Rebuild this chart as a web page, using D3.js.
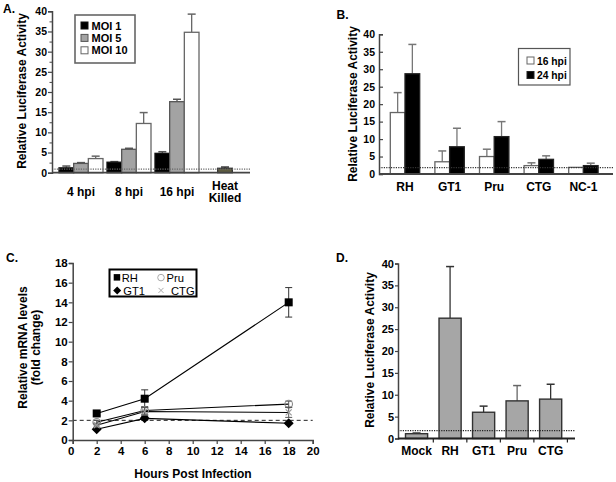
<!DOCTYPE html>
<html><head><meta charset="utf-8">
<script src="https://cdn.jsdelivr.net/npm/d3@7"></script>
<style>
body{margin:0;background:#fff}
svg text{font-family:"Liberation Sans",Arial,sans-serif;font-weight:bold;fill:#000}
svg text.norm{font-weight:normal}
</style></head><body>
<svg id="c" width="616" height="482"></svg>
<script>
// ---------- DATA ----------
// Panel A
const aGroups = ["4 hpi", "8 hpi", "16 hpi", "Heat Killed"];
const aSeries = ["MOI 1", "MOI 5", "MOI 10"];
const aMoi1 = [1.2, 2.6, 4.8];
const aMoi1Err = [0.45, 0.15, 0.4];
const aMoi5 = [2.3, 5.8, 17.6];
const aMoi5Err = [0.2, 0.25, 0.6];
const aMoi10 = [3.5, 12.2, 34.8];
const aMoi10Err = [0.6, 2.7, 4.5];
const aHeatKilled = 1.1;
const aHeatKilledErr = 0.3;
const aBaseline = 0.9;
const aTicks = [0, 5, 10, 15, 20, 25, 30, 35, 40];

// Panel B
const bStrains = ["RH", "GT1", "Pru", "CTG", "NC-1"];
const bSeries = ["16 hpi", "24 hpi"];
const b16 = [17.6, 3.5, 5.0, 2.4, 1.9];
const b16Err = [5.7, 3.1, 2.1, 0.8, 0];
const b24 = [28.7, 7.8, 10.7, 4.2, 2.4];
const b24Err = [8.4, 5.3, 4.3, 1.0, 0.7];
const bBaseline = 1.8;
const bTicks = [0, 5, 10, 15, 20, 25, 30, 35, 40];

// Panel C
const cTimes = [2, 6, 18];
const cNames = ["RH", "GT1", "Pru", "CTG"];
const cRH = [2.7, 4.2, 14.0];
const cRHErr = [0.2, 0.9, 1.5];
const cGT1 = [1.1, 2.2, 1.7];
const cGT1Err = [0.1, 0.2, 0.1];
const cPru = [1.8, 3.0, 3.65];
const cPruErr = [0.2, 0.4, 0.3];
const cCTG = [1.5, 2.9, 2.8];
const cCTGErr = [0.2, 0.4, 0.5];
const cBaseline = 2;
const cYTicks = [0, 2, 4, 6, 8, 10, 12, 14, 16, 18];
const cXTicks = [0, 2, 4, 6, 8, 10, 12, 14, 16, 18, 20];

// Panel D
const dCats = ["Mock", "RH", "GT1", "Pru", "CTG"];
const dVals = [1.1, 27.5, 6.0, 8.6, 9.0];
const dErr = [0.15, 11.8, 1.4, 3.5, 3.4];
const dBaseline = 1.8;
const dTicks = [0, 5, 10, 15, 20, 25, 30, 35, 40];

// ---------- DRAW ----------
const svg = d3.select("#c");
const AX = "#444";

function styleAxis(g, w) {
  g.select(".domain").attr("stroke", AX).attr("stroke-width", w || 1.5);
  g.selectAll(".tick line").attr("stroke", AX).attr("stroke-width", 1.2);
  g.selectAll("text").attr("fill", "#000");
}
function rotTitle(x, y, txt) {
  svg.append("text").attr("transform", `translate(${x},${y}) rotate(-90)`)
    .attr("text-anchor", "middle").attr("font-size", 12).text(txt);
}
function upErr(g, x, yTop, yCap, col) {
  g.append("line").attr("x1", x).attr("x2", x).attr("y1", yTop).attr("y2", yCap)
    .attr("stroke", col).attr("stroke-width", 1.3);
  g.append("line").attr("x1", x - 4).attr("x2", x + 4).attr("y1", yCap).attr("y2", yCap)
    .attr("stroke", col).attr("stroke-width", 1.5);
}
function dotted(g, x1, x2, yy, col) {
  g.append("line").attr("x1", x1).attr("x2", x2).attr("y1", yy).attr("y2", yy)
    .attr("stroke", col).attr("stroke-width", 1.2).attr("stroke-dasharray", "1.2,1.2");
}

// ===== Panel A =====
{
  const y = d3.scaleLinear().domain([0, 40]).range([172.7, 11.3]);
  const x = d3.scaleBand().domain(aGroups).range([57, 249]).padding(0);
  const xi = d3.scaleBand().domain(aSeries).range([0, 44]);
  const g = svg.append("g");
  const fills = ["#000", "#a3a3a3", "#fff"];
  const strokes = ["#111", "#555", "#666"];
  const errCol = ["#555", "#555", "#666"];
  const vals = [aMoi1, aMoi5, aMoi10], errs = [aMoi1Err, aMoi5Err, aMoi10Err];
  aSeries.forEach((s, si) => {
    aGroups.slice(0, 3).forEach((grp, gi) => {
      const bx = x(grp) + (x.bandwidth() - 44) / 2 + xi(s);
      const v = vals[si][gi], e = errs[si][gi];
      upErr(g, bx + xi.bandwidth() / 2, y(v), y(v + e), errCol[si]);
      g.append("rect").attr("x", bx).attr("y", y(v)).attr("width", xi.bandwidth())
        .attr("height", y(0) - y(v)).attr("fill", fills[si]).attr("stroke", strokes[si]).attr("stroke-width", 1.3);
    });
  });
  {
    const cx = x("Heat Killed") + x.bandwidth() / 2, w = xi.bandwidth();
    upErr(g, cx, y(aHeatKilled), y(aHeatKilled + aHeatKilledErr), "#333");
    g.append("rect").attr("x", cx - w / 2).attr("y", y(aHeatKilled)).attr("width", w)
      .attr("height", y(0) - y(aHeatKilled)).attr("fill", "#5e5c40").attr("stroke", "#333").attr("stroke-width", 1.3);
  }
  dotted(g, 52, 250, y(aBaseline), "#666");
  const ya = g.append("g").attr("transform", "translate(52,0)")
    .call(d3.axisLeft(y).tickValues(aTicks).tickSize(4).tickPadding(1))
    .call(a => a.selectAll("text").attr("font-size", 10.5).attr("font-family", "Liberation Sans, Arial").attr("font-weight", "bold"));
  styleAxis(ya);
  const ym = g.append("g").attr("transform", "translate(52,0)")
    .call(d3.axisLeft(y).tickValues(aTicks.slice(0, -1).map(t => t + 2.5)).tickSize(2.5).tickFormat(""));
  ym.select(".domain").remove();
  ym.selectAll(".tick line").attr("stroke", AX);
  g.append("line").attr("x1", 52).attr("x2", 250).attr("y1", y(0)).attr("y2", y(0)).attr("stroke", AX).attr("stroke-width", 1.8);
  aGroups.forEach(grp => {
    const cx = x(grp) + x.bandwidth() / 2;
    if (grp === "Heat Killed") {
      const t = g.append("text").attr("text-anchor", "middle").attr("font-size", 12);
      t.append("tspan").attr("x", cx).attr("y", 189.5).text("Heat");
      t.append("tspan").attr("x", cx).attr("y", 202).text("Killed");
    } else {
      g.append("text").attr("x", cx).attr("y", 196).attr("text-anchor", "middle").attr("font-size", 12).text(grp);
    }
  });
  rotTitle(25.5, 91, "Relative Luciferase Activity");
  svg.append("text").attr("x", 3).attr("y", 13).attr("font-size", 12).text("A.");
  const lg = g.append("g");
  lg.append("rect").attr("x", 75).attr("y", 15).attr("width", 60).attr("height", 48)
    .attr("fill", "#fff").attr("stroke", "#666").attr("stroke-width", 1.6);
  aSeries.forEach((s, i) => {
    const ry = 25.5 + i * 12.4;
    lg.append("rect").attr("x", 81).attr("y", ry - 3.5).attr("width", 7).attr("height", 7)
      .attr("fill", fills[i]).attr("stroke", strokes[i]).attr("stroke-width", 1);
    lg.append("text").attr("x", 91.5).attr("y", ry + 4).attr("font-size", 11).text(s);
  });
}

// ===== Panel B =====
{
  const y = d3.scaleLinear().domain([0, 40]).range([174, 34.3]);
  const x = d3.scaleBand().domain(bStrains).range([382.7, 605.7]).padding(0);
  const xi = d3.scaleBand().domain(bSeries).range([0, 29.4]);
  const g = svg.append("g");
  const fills = ["#fff", "#000"], strokes = ["#666", "#222"], errCol = ["#777", "#777"];
  const vals = [b16, b24], errs = [b16Err, b24Err];
  bSeries.forEach((s, si) => {
    bStrains.forEach((st, gi) => {
      const bx = x(st) + (x.bandwidth() - 29.4) / 2 + xi(s);
      const v = vals[si][gi], e = errs[si][gi];
      if (e > 0) upErr(g, bx + xi.bandwidth() / 2, y(v), y(v + e), errCol[si]);
      g.append("rect").attr("x", bx).attr("y", y(v)).attr("width", xi.bandwidth())
        .attr("height", y(0) - y(v)).attr("fill", fills[si]).attr("stroke", strokes[si]).attr("stroke-width", 1.3);
    });
  });
  dotted(g, 379, 613, y(bBaseline), "#333");
  const ya = g.append("g").attr("transform", "translate(379,0)")
    .call(d3.axisLeft(y).tickValues(bTicks).tickSize(-4).tickPadding(4))
    .call(a => a.selectAll("text").attr("font-size", 10.5).attr("font-family", "Liberation Sans, Arial").attr("font-weight", "bold"));
  styleAxis(ya);
  g.append("line").attr("x1", 379).attr("x2", 613).attr("y1", y(0)).attr("y2", y(0)).attr("stroke", AX).attr("stroke-width", 1.8);
  bStrains.forEach(st => {
    g.append("text").attr("x", x(st) + x.bandwidth() / 2).attr("y", 190.5).attr("text-anchor", "middle")
      .attr("font-size", 12).text(st);
  });
  rotTitle(356.5, 104, "Relative Luciferase Activity");
  svg.append("text").attr("x", 336.5).attr("y", 18.5).attr("font-size", 12).text("B.");
  const lg = g.append("g");
  lg.append("rect").attr("x", 518.5).attr("y", 48.5).attr("width", 51.5).attr("height", 36.5)
    .attr("fill", "#fff").attr("stroke", "#555").attr("stroke-width", 1.2);
  bSeries.forEach((s, i) => {
    const ry = 60.5 + i * 14.5;
    lg.append("rect").attr("x", 527).attr("y", ry - 3.5).attr("width", 7).attr("height", 7)
      .attr("fill", fills[i]).attr("stroke", strokes[i]).attr("stroke-width", 1);
    lg.append("text").attr("x", 537).attr("y", ry + 4).attr("font-size", 10.3).text(s);
  });
}

// ===== Panel C =====
{
  const x = d3.scaleLinear().domain([0, 20]).range([72.7, 312.7]);
  const y = d3.scaleLinear().domain([0, 18]).range([440, 263]);
  const g = svg.append("g");
  const series = [
    { name: "RH", v: cRH, e: cRHErr, sym: "square", col: "#000" },
    { name: "GT1", v: cGT1, e: cGT1Err, sym: "diamond", col: "#000" },
    { name: "Pru", v: cPru, e: cPruErr, sym: "circle", col: "#888" },
    { name: "CTG", v: cCTG, e: cCTGErr, sym: "x", col: "#999" }
  ];
  g.append("line").attr("x1", x(0)).attr("x2", x(20)).attr("y1", y(cBaseline)).attr("y2", y(cBaseline))
    .attr("stroke", "#222").attr("stroke-width", 1).attr("stroke-dasharray", "4,3");
  const line = d3.line().x((d, i) => x(cTimes[i])).y(d => y(d));
  function marker(sel, sym, cx, cy, col) {
    if (sym === "square") sel.append("rect").attr("x", cx - 4).attr("y", cy - 4).attr("width", 8).attr("height", 8).attr("fill", "#000");
    else if (sym === "diamond") sel.append("path").attr("d", `M${cx},${cy - 5}L${cx + 5},${cy}L${cx},${cy + 5}L${cx - 5},${cy}Z`).attr("fill", "#000");
    else if (sym === "circle") sel.append("circle").attr("cx", cx).attr("cy", cy).attr("r", 3.8).attr("fill", "none").attr("stroke", col).attr("stroke-width", 1.1);
    else sel.append("path").attr("d", `M${cx - 3},${cy - 3}L${cx + 3},${cy + 3}M${cx - 3},${cy + 3}L${cx + 3},${cy - 3}`).attr("stroke", col).attr("stroke-width", 1.1);
  }
  series.forEach(s => {
    g.append("path").attr("d", line(s.v)).attr("fill", "none").attr("stroke", "#000").attr("stroke-width", 1.1);
  });
  series.forEach(s => {
    s.v.forEach((v, i) => {
      const cx = x(cTimes[i]);
      const ecol = s.sym === "circle" || s.sym === "x" ? "#555" : "#333";
      g.append("line").attr("x1", cx).attr("x2", cx).attr("y1", y(v - s.e[i])).attr("y2", y(v + s.e[i])).attr("stroke", ecol).attr("stroke-width", 1);
      [v - s.e[i], v + s.e[i]].forEach(ev => g.append("line").attr("x1", cx - 3.5).attr("x2", cx + 3.5).attr("y1", y(ev)).attr("y2", y(ev)).attr("stroke", ecol).attr("stroke-width", 1));
      marker(g, s.sym, cx, y(v), s.col);
    });
  });
  const ya = g.append("g").attr("transform", `translate(${x(0)},0)`)
    .call(d3.axisLeft(y).tickValues(cYTicks).tickSize(4).tickPadding(1))
    .call(a => a.selectAll("text").attr("font-size", 11.5).attr("font-family", "Liberation Sans, Arial").attr("font-weight", "bold"));
  styleAxis(ya);
  const xa = g.append("g").attr("transform", `translate(0,${y(0)})`)
    .call(d3.axisBottom(x).tickValues(cXTicks).tickSize(4).tickPadding(3))
    .call(a => a.selectAll("text").attr("font-size", 11.5).attr("font-family", "Liberation Sans, Arial").attr("font-weight", "bold"));
  styleAxis(xa);
  xa.selectAll(".tick").filter(d => d === 0).select("text").attr("dx", -2);
  g.append("text").attr("x", 193).attr("y", 477.5).attr("text-anchor", "middle").attr("font-size", 12).text("Hours Post Infection");
  rotTitle(26.5, 347.5, "Relative mRNA levels");
  rotTitle(39.5, 347.5, "(fold change)");
  svg.append("text").attr("x", 6).attr("y", 262).attr("font-size", 12).text("C.");
  const lg = g.append("g");
  lg.append("rect").attr("x", 109.5).attr("y", 269.5).attr("width", 87).attr("height", 27)
    .attr("fill", "none").attr("stroke", "#000").attr("stroke-width", 2);
  const pos = [[116.7, 277.6, 121.7], [117.2, 290.4, 123.3], [161, 277.6, 166.5], [161, 290.4, 171]];
  series.forEach((s, i) => {
    const [mx, my, tx] = pos[i];
    if (s.sym === "square") lg.append("rect").attr("x", mx - 3).attr("y", my - 3.5).attr("width", 6.5).attr("height", 6.5).attr("fill", "#000");
    else if (s.sym === "diamond") lg.append("path").attr("d", `M${mx},${my - 4}L${mx + 4},${my}L${mx},${my + 4}L${mx - 4},${my}Z`).attr("fill", "#000");
    else if (s.sym === "circle") lg.append("circle").attr("cx", mx).attr("cy", my).attr("r", 3.3).attr("fill", "none").attr("stroke", "#aaa").attr("stroke-width", 1);
    else lg.append("path").attr("d", `M${mx - 2.5},${my - 2.5}L${mx + 2.5},${my + 2.5}M${mx - 2.5},${my + 2.5}L${mx + 2.5},${my - 2.5}`).attr("stroke", "#aaa").attr("stroke-width", 1);
    lg.append("text").attr("class", "norm").attr("x", tx).attr("y", my + 4.2).attr("font-size", 11.2).text(s.name);
  });
}

// ===== Panel D =====
{
  const y = d3.scaleLinear().domain([0, 40]).range([438.5, 263.5]);
  const x = d3.scaleBand().domain(dCats).range([394.1, 573.1]).padding(0.34);
  const g = svg.append("g");
  dCats.forEach((c, i) => {
    const v = dVals[i], e = dErr[i];
    upErr(g, x(c) + x.bandwidth() / 2, y(v), y(v + e), i === 3 ? "#666" : "#333");
    g.append("rect").attr("x", x(c)).attr("y", y(v)).attr("width", x.bandwidth()).attr("height", y(0) - y(v))
      .attr("fill", "#a6a6a6").attr("stroke", "#333").attr("stroke-width", 1.4);
  });
  dotted(g, 398, 575, y(dBaseline), "#222");
  const ya = g.append("g").attr("transform", "translate(398,0)")
    .call(d3.axisLeft(y).tickValues(dTicks).tickSize(3).tickPadding(1))
    .call(a => a.selectAll("text").attr("font-size", 11).attr("font-family", "Liberation Sans, Arial").attr("font-weight", "bold"));
  styleAxis(ya);
  g.append("line").attr("x1", 398).attr("x2", 575).attr("y1", y(0)).attr("y2", y(0)).attr("stroke", "#222").attr("stroke-width", 1.8);
  dCats.forEach((c, i) => {
    const bx = x(c) + x.bandwidth() + x.step() * x.paddingInner() / 2;
    g.append("line").attr("x1", bx).attr("x2", bx).attr("y1", y(0)).attr("y2", y(0) + 4).attr("stroke", "#222").attr("stroke-width", 1.2);
    g.append("text").attr("x", x(c) + x.bandwidth() / 2).attr("y", 455).attr("text-anchor", "middle").attr("font-size", 12).text(c);
  });
  rotTitle(374, 350, "Relative Luciferase Activity");
  svg.append("text").attr("x", 336).attr("y", 262).attr("font-size", 12).text("D.");
}
</script>
</body></html>
